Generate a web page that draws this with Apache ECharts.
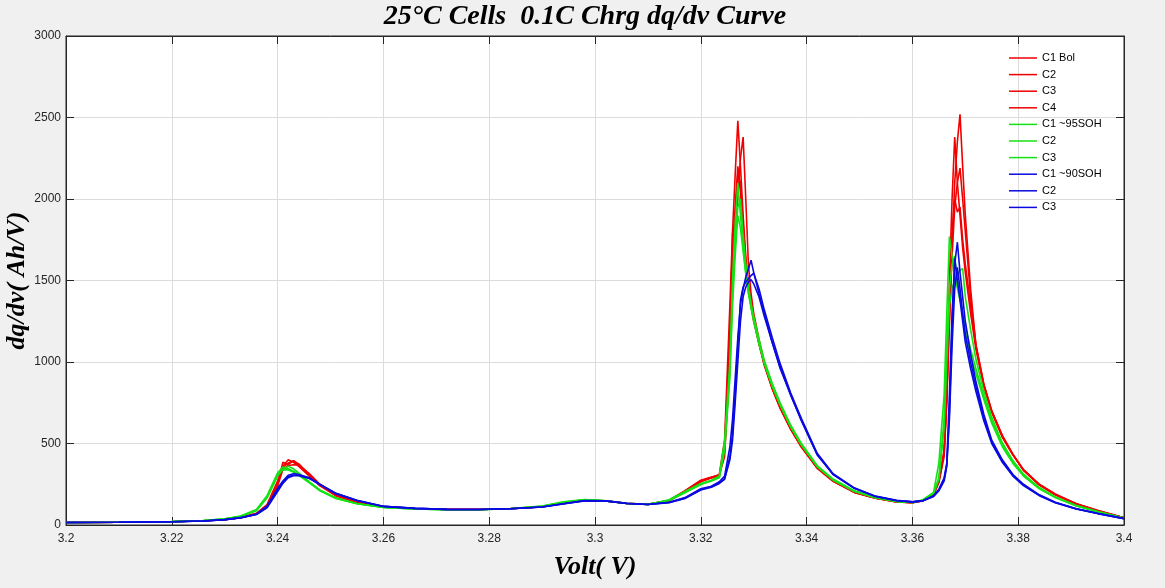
<!DOCTYPE html>
<html><head><meta charset="utf-8">
<script src="https://cdn.jsdelivr.net/npm/echarts@6/dist/echarts.min.js"></script>
<style>html,body{margin:0;padding:0;background:#f0f0f0;}#c{width:1165px;height:588px;}</style>
</head><body><div id="c"></div>
<script>
const volts = [3.200,3.210,3.220,3.226,3.230,3.233,3.236,3.238,3.240,3.241,
 3.242,3.243,3.244,3.246,3.248,3.251,3.255,3.260,3.266,3.272,
 3.278,3.284,3.290,3.294,3.298,3.302,3.306,3.310,3.314,3.317,
 3.320,3.322,3.3235,3.3245,3.3255,3.326,3.3265,3.327,3.3275,3.328,
 3.3285,3.329,3.3295,3.330,3.331,3.332,3.3335,3.335,3.337,3.339,
 3.342,3.345,3.349,3.353,3.357,3.360,3.362,3.364,3.365,3.366,
 3.3665,3.367,3.3675,3.368,3.3685,3.369,3.3695,3.370,3.371,3.372,
 3.3735,3.375,3.377,3.379,3.381,3.384,3.387,3.391,3.395,3.400];

const bolC1 = [15,17,20,26,34,46,70,120,260,360,
 400,385,360,300,240,180,140,112,100,95,
 95,100,113,135,152,147,132,127,150,205,
 272,292,310,520,1350,1800,2150,2480,2200,1900,
 1650,1480,1360,1270,1120,990,840,720,590,480,
 350,270,200,165,142,137,150,190,270,460,
 800,1250,1700,2100,2350,2520,2200,1900,1450,1100,
 860,700,550,435,340,250,190,130,90,45];
const bolC2 = [15,17,20,26,33,45,68,115,250,385,
 370,395,365,305,245,182,142,113,100,96,
 95,100,112,134,150,148,133,126,152,210,
 275,295,305,450,1100,1790,1850,2000,2250,2380,
 2000,1600,1420,1300,1140,1000,850,730,600,490,
 355,272,202,166,143,137,148,185,260,420,
 800,1500,2000,2380,2100,1900,1700,1550,1300,1080,
 850,690,540,430,335,245,185,128,88,45];
const bolC3 = [15,17,20,26,34,46,72,125,270,355,
 380,395,375,310,245,180,140,112,100,95,
 95,100,113,136,152,147,132,127,148,200,
 265,288,300,480,1200,1700,1950,2200,2050,1800,
 1600,1450,1340,1250,1110,980,835,715,585,478,
 348,268,200,164,142,137,150,190,265,440,
 750,1250,1650,1950,2100,2190,2000,1800,1400,1110,
 865,700,545,432,338,248,188,130,88,45];
const bolC4 = [15,17,20,26,33,44,66,110,240,340,
 365,370,368,315,250,185,143,113,101,96,
 95,101,112,134,151,148,133,127,150,208,
 270,290,305,420,1000,1500,1900,2150,2100,1850,
 1620,1460,1350,1260,1115,985,840,720,590,482,
 352,270,202,166,143,138,150,188,268,450,
 780,1400,1800,2000,1920,1950,1750,1600,1350,1100,
 860,695,540,430,336,246,186,128,88,45];
const soh95C1 = [15,17,21,28,38,55,95,180,320,355,
 345,330,310,262,212,165,130,108,98,94,
 94,100,115,140,155,148,132,126,155,205,
 255,275,300,520,1000,1500,1850,2100,1900,1700,
 1550,1430,1340,1260,1120,1000,860,740,605,495,
 360,278,208,168,144,138,155,200,380,800,
 1300,1770,1650,1550,1450,1380,1300,1220,1080,960,
 790,640,490,385,305,225,170,118,82,43];
const soh95C2 = [15,17,21,27,36,52,88,165,300,340,
 360,345,320,265,215,167,132,109,99,94,
 94,101,116,142,156,149,133,127,152,200,
 250,272,295,480,950,1400,1750,1950,2000,1780,
 1600,1460,1360,1280,1140,1010,870,750,612,500,
 365,282,210,170,145,139,152,195,280,600,
 1000,1350,1450,1500,1540,1560,1575,1400,1200,1020,
 820,660,505,395,312,230,172,120,83,43];
const soh95C3 = [15,17,21,27,37,53,90,170,305,340,
 338,325,305,258,210,163,130,108,98,94,
 94,100,114,140,154,148,132,126,150,198,
 248,270,290,460,900,1350,1650,1900,1820,1680,
 1540,1420,1330,1250,1110,990,850,735,600,490,
 358,276,206,168,144,138,152,195,290,650,
 1100,1450,1600,1650,1500,1400,1300,1180,1040,930,
 770,625,480,378,300,222,168,116,80,42];
const soh90C1 = [15,17,20,25,33,45,68,115,225,270,
 305,315,310,290,248,192,150,114,102,96,
 95,100,110,130,150,148,132,126,140,168,
 222,238,265,300,480,650,900,1150,1350,1450,
 1520,1570,1625,1550,1420,1300,1120,960,800,640,
 430,310,225,175,150,142,150,180,220,290,
 380,800,1300,1600,1735,1550,1400,1250,1050,880,
 680,520,400,310,250,185,140,100,72,40];
const soh90C2 = [15,17,20,25,33,44,66,110,215,262,
 298,305,305,288,250,195,152,115,102,96,
 95,100,110,130,149,148,133,126,138,165,
 218,235,258,285,420,560,800,1100,1380,1460,
 1490,1510,1530,1545,1450,1320,1150,990,810,655,
 440,315,228,177,151,142,148,175,210,270,
 360,700,1200,1636,1500,1380,1250,1120,960,820,
 640,500,385,300,242,180,137,98,70,39];
const soh90C3 = [15,17,20,25,32,43,64,105,205,255,
 290,302,303,285,248,194,150,114,102,96,
 95,100,110,129,148,147,132,126,137,163,
 215,232,255,280,400,520,750,1000,1250,1400,
 1460,1490,1505,1480,1400,1280,1120,970,795,645,
 435,312,226,176,150,142,148,176,212,280,
 370,650,1100,1450,1580,1450,1300,1170,1000,850,
 660,510,392,305,245,182,138,99,71,39];

const seriesNames = ['C1 Bol','C2','C3','C4','C1 ~95SOH','C2','C3','C1 ~90SOH','C2','C3'];
const seriesValues = [bolC1,bolC2,bolC3,bolC4,soh95C1,soh95C2,soh95C3,soh90C1,soh90C2,soh90C3];
const RED='#f00000', GREEN='#14e214', BLUE='#0a0ae0';
const seriesColors = [RED,RED,RED,RED,GREEN,GREEN,GREEN,BLUE,BLUE,BLUE];

// unique internal keys for duplicate legend names (display trimmed)
const seen = {};
const keys = seriesNames.map(n => { seen[n] = (seen[n]||0)+1; return n + ' '.repeat(seen[n]-1); });

const chart = echarts.init(document.getElementById('c'), null, {renderer:'canvas'});
const axisCol = '#262626';
const labelFont = {color: axisCol, fontSize: 12, fontFamily: 'Liberation Sans, Arial, sans-serif'};
const nameFont = {color:'#000', fontSize: 26, fontStyle:'italic', fontWeight:'bold', fontFamily:'Liberation Serif, Times New Roman, serif'};

chart.setOption({
  animation: false,
  backgroundColor: '#f0f0f0',
  title: {
    text: '25°C Cells  0.1C Chrg dq/dv Curve',
    left: 580, top: -2, textAlign: 'center',
    textStyle: {color:'#000', fontSize: 28, fontStyle:'italic', fontWeight:'bold', fontFamily:'Liberation Serif, Times New Roman, serif'}
  },
  grid: {left: 66, right: 41, top: 36, bottom: 63, containLabel: false, outerBoundsMode: 'none',
         show: true, backgroundColor: '#ffffff', borderColor: axisCol, borderWidth: 1},
  legend: {
    data: keys, orient: 'vertical', left: 1009, top: 52, padding: 0,
    icon: 'rect', itemWidth: 28, itemHeight: 1.5, itemGap: 4.6,
    formatter: n => n.trim(),
    textStyle: {color:'#000', fontSize: 11, lineHeight: 12, fontFamily: 'Liberation Sans, Arial, sans-serif'},
    backgroundColor: 'transparent'
  },
  xAxis: [{
    type: 'value', min: 3.2, max: 3.4, interval: 0.02, position: 'bottom',
    axisLine: {show: true, onZero: false, lineStyle: {color: axisCol}},
    axisTick: {show: true, inside: true, length: 8, lineStyle: {color: axisCol}},
    axisLabel: Object.assign({margin: 8, formatter: v => String(+v.toFixed(2))}, labelFont),
    splitLine: {show: true, lineStyle: {color: '#dcdcdc', width: 1}},
    name: 'Volt( V)', nameLocation: 'middle', nameGap: 29, nameMoveOverlap: false, nameTextStyle: nameFont
  }, {
    type: 'value', min: 3.2, max: 3.4, interval: 0.02, position: 'top',
    axisLine: {show: true, onZero: false, lineStyle: {color: axisCol}},
    axisTick: {show: true, inside: true, length: 8, lineStyle: {color: axisCol}},
    axisLabel: {show: false}, splitLine: {show: false}
  }],
  yAxis: [{
    type: 'value', min: 0, max: 3000, interval: 500, position: 'left',
    axisLine: {show: true, onZero: false, lineStyle: {color: axisCol}},
    axisTick: {show: true, inside: true, length: 8, lineStyle: {color: axisCol}},
    axisLabel: Object.assign({margin: 5, formatter: v => String(v)}, labelFont),
    splitLine: {show: true, lineStyle: {color: '#dcdcdc', width: 1}},
    name: 'dq/dv( Ah/V)', nameLocation: 'middle', nameGap: 36, nameRotate: 90, nameMoveOverlap: false, nameTextStyle: nameFont
  }, {
    type: 'value', min: 0, max: 3000, interval: 500, position: 'right',
    axisLine: {show: true, onZero: false, lineStyle: {color: axisCol}},
    axisTick: {show: true, inside: true, length: 8, lineStyle: {color: axisCol}},
    axisLabel: {show: false}, splitLine: {show: false}
  }],
  series: seriesValues.map((vals, i) => ({
    name: keys[i], type: 'line', xAxisIndex: 0, yAxisIndex: 0,
    data: volts.map((v, j) => [v, vals[j]]),
    symbol: 'none', showSymbol: false, smooth: false,
    lineStyle: {width: 1.6, color: seriesColors[i]},
    itemStyle: {color: seriesColors[i]},
    emphasis: {disabled: true}
  }))
});
</script></body></html>
